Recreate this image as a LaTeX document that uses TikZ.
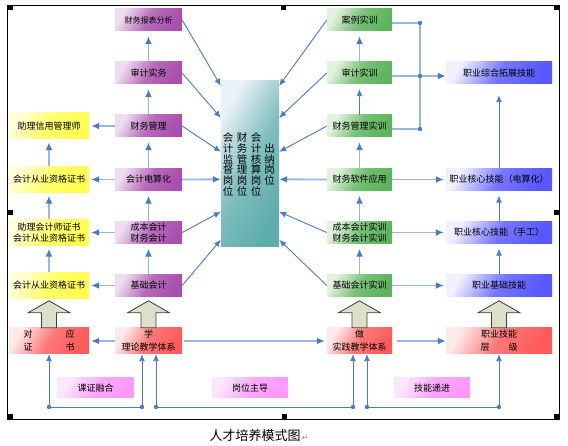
\documentclass[tikz,border=0pt]{standalone}
\usepackage{fontspec}
\newfontfamily\cjk{Noto Sans CJK SC}
\newfontfamily\dejavu{DejaVu Sans}
\usetikzlibrary{arrows.meta}
\definecolor{lnblue}{HTML}{4A7CC4}
\definecolor{lnlight}{HTML}{9AB6DC}
\definecolor{purlight}{HTML}{EEDDF0}
\definecolor{purmain}{HTML}{A94FAD}
\definecolor{yellight}{HTML}{FFFFD8}
\definecolor{yelmain}{HTML}{FFFF50}
\definecolor{grnlight}{HTML}{E2F2DE}
\definecolor{grnmain}{HTML}{5DB35D}
\definecolor{blulight}{HTML}{F0F0FF}
\definecolor{blumain}{HTML}{5858FF}
\definecolor{redlight}{HTML}{FCEAEA}
\definecolor{redmain}{HTML}{FF5A5A}
\definecolor{pnklight}{HTML}{FAE8FA}
\definecolor{pnkmain}{HTML}{FF99FF}
\definecolor{tealight}{HTML}{EAF2F7}
\definecolor{teamain}{HTML}{5EACAC}
\definecolor{arrowfill}{HTML}{DDE0C8}
\begin{document}
\begin{tikzpicture}[x=1pt,y=-1pt]
\tikzstyle{box}=[inner sep=0pt, align=center, minimum height=22pt, font=\cjk\fontsize{9}{11}\selectfont]
\tikzstyle{purplebox}=[box, minimum width=67pt, left color=purlight, right color=purmain, middle color=purmain!80!purlight, shading angle=60]
\tikzstyle{yellowbox}=[box, minimum width=80pt, minimum height=26pt, left color=yellight, right color=yelmain, middle color=yelmain!80!yellight, shading angle=60]
\tikzstyle{greenbox}=[box, minimum width=65pt, left color=grnlight, right color=grnmain, middle color=grnmain!80!grnlight, shading angle=60]
\tikzstyle{bluebox}=[box, minimum width=106pt, left color=blulight, right color=blumain, middle color=blumain!80!blulight, shading angle=60]
\tikzstyle{redbox}=[box, minimum height=26pt, font=\cjk\fontsize{9}{13}\selectfont, left color=redlight, right color=redmain, middle color=redmain!80!redlight, shading angle=60]
\tikzstyle{pinkbox}=[box, minimum width=76pt, minimum height=20pt, left color=pnklight, right color=pnkmain, middle color=pnkmain!80!pnklight, shading angle=60]
\tikzstyle{vtext}=[inner sep=0pt, align=center, font=\cjk\fontsize{10.5}{10.9}\selectfont]
\tikzstyle{conn}=[lnlight, line width=1.8pt, -{Latex[length=8pt,width=7pt,color=lnblue]}]
\tikzstyle{link}=[lnblue, line width=0.9pt, -{Latex[length=7pt,width=6pt]}]
\tikzstyle{wire}=[lnblue, line width=0.9pt]
\tikzstyle{bigup}=[draw=black!75, fill=arrowfill, line width=0.8pt]
\useasboundingbox (0,0) rectangle (568,446);

% frame
\draw[line width=0.8pt] (7.5,5) rectangle (559,419);
\foreach \x/\y in {7.5/5, 281/5, 554/5, 7.5/210, 554/210, 7.5/414, 282/414, 554/414}
  \fill (\x,\y) rectangle ++(5,5);

% certificates
\node[yellowbox] (cred) at (49,126) {助理信用管理师};
\node[yellowbox] (qualA) at (49,179.5) {会计从业资格证书};
\node[yellowbox] (asst) at (49,232.5) {助理会计师证书\\会计从业资格证书};
\node[yellowbox] (qualB) at (49,285.5) {会计从业资格证书};

% theory courses
\node[purplebox, font=\cjk\fontsize{8}{10}\selectfont] (rep) at (148.5,20) {财务报表分析};
\node[purplebox] (aud) at (148.5,73) {审计实务};
\node[purplebox] (fin) at (148.5,126) {财务管理};
\node[purplebox] (comp) at (148.5,179.5) {会计电算化};
\node[purplebox] (cost) at (148.5,232.5) {成本会计\\财务会计};
\node[purplebox] (basic) at (148.5,285.5) {基础会计};

% posts
\node[minimum width=58pt, minimum height=166pt, inner sep=0pt, left color=tealight, right color=teamain, middle color=teamain!75!tealight, shading angle=60] (post) at (250,164) {};
\node[vtext] (jd) at (228,164.5) {会\\计\\监\\督\\岗\\位};
\node[vtext] (gl) at (242,164.5) {财\\务\\管\\理\\岗\\位};
\node[vtext] (hs) at (256,164.5) {会\\计\\核\\算\\岗\\位};
\node[vtext] (cn) at (269.5,164.5) {出\\纳\\岗\\位};

% practice
\node[greenbox] (case) at (359.5,20) {案例实训};
\node[greenbox] (audt) at (359.5,73) {审计实训};
\node[greenbox] (finm) at (359.5,126) {财务管理实训};
\node[greenbox] (soft) at (359.5,179.5) {财务软件应用};
\node[greenbox] (costt) at (359.5,232.5) {成本会计实训\\财务会计实训};
\node[greenbox] (basict) at (359.5,285.5) {基础会计实训};

% skills
\node[bluebox] (ext) at (499,73) {职业综合拓展技能};
\node[bluebox] (corec) at (499,179.5) {职业核心技能（电算化）};
\node[bluebox] (coreh) at (499,232.5) {职业核心技能（手工）};
\node[bluebox] (base) at (499,285.5) {职业基础技能};

% systems
\node[redbox, minimum width=80pt] (cert) at (49,341) {对\hspace{33pt}应\\证\hspace{33pt}书};
\node[redbox, minimum width=67pt] (theo) at (148.5,341) {学\\理论教学体系};
\node[redbox, minimum width=65pt] (prac) at (359.5,341) {做\\实践教学体系};
\node[redbox, minimum width=106pt] (level) at (499,341) {职业技能\\层\hspace{19pt}级};
\foreach \n in {cert,theo,prac,level}
  \draw[bigup] (\n.north) ++(-7.5,0) -- ++(0,-15) -- ++(-13.5,0) -- ++(21,-12) -- ++(21,12) -- ++(-13.5,0) -- ++(0,15) -- cycle;

\node[pinkbox] (kz) at (95.5,388) {课证融合};
\node[pinkbox] (gw) at (250,388) {岗位主导};
\node[pinkbox] (jn) at (432,388) {技能递进};

\node[font=\cjk\fontsize{13}{15}\selectfont, inner sep=0pt] (cap) at (255,436) {人才培养模式图};
\node[anchor=base west, inner sep=1pt, text=black!45, font=\dejavu\fontsize{8}{8}\selectfont] (ret) at (cap.base east) {↵};

% columns
\draw[conn, shorten >=5pt] (basic) -- (cost);
\draw[conn, shorten >=5pt] (cost) -- (comp);
\draw[conn, shorten >=5pt] (comp) -- (fin);
\draw[conn, shorten >=5pt] (fin) -- (aud);
\draw[conn, shorten >=5pt] (aud) -- (rep);
\draw[conn, shorten >=3pt] (qualB) -- (asst);
\draw[conn, shorten >=3pt] (asst) -- (qualA);
\draw[conn, shorten >=3pt] (qualA) -- (cred);
\draw[conn, shorten >=2pt] (fin) -- (cred);
\draw[conn, shorten >=2pt] (comp) -- (qualA);
\draw[conn, shorten >=2pt] (cost) -- (asst);
\draw[conn, shorten >=2pt] (basic) -- (qualB);
\draw[conn, shorten >=5pt] (basict) -- (costt);
\draw[conn, shorten >=5pt] (costt) -- (soft);
\draw[conn, shorten >=5pt] (soft) -- (finm);
\draw[link, shorten >=5pt] (finm) -- (audt);
\draw[conn, shorten >=5pt] (audt) -- (case);
\draw[conn, shorten >=2pt] (soft) -- (corec);
\draw[conn, shorten >=2pt] (costt) -- (coreh);
\draw[conn, shorten >=2pt] (basict) -- (base);
\draw[link, shorten >=5pt] (base) -- (coreh);
\draw[link, shorten >=5pt] (coreh) -- (corec);
\draw[link, shorten >=11pt] (corec) -- (ext);

% into the posts
\draw[link] (rep.east) -- ([yshift=-5pt]post.north west);
\draw[link] (aud.east) -- ([yshift=-37pt]post.north west);
\draw[link] (fin.east) -- ([yshift=-71pt]post.north west);
\draw[conn] (comp.east) -- ([yshift=-98.5pt]post.north west);
\draw[link] (cost.east) -- ([yshift=-131pt]post.north west);
\draw[link] (basic.east) -- ([yshift=-159pt]post.north west);
\draw[link] (case.west) -- ([yshift=-5pt]post.north east);
\draw[link] (audt.west) -- ([yshift=-37pt]post.north east);
\draw[link] (finm.west) -- ([yshift=-71pt]post.north east);
\draw[conn] (soft.west) -- ([yshift=-98.5pt]post.north east);
\draw[link] (costt.west) -- ([yshift=-131pt]post.north east);
\draw[link] (basict.west) -- ([yshift=-159pt]post.north east);

% practice to extension
\coordinate (j1) at (420,23);
\coordinate (j2) at (420,76);
\coordinate (j3) at (420,129);
\draw[lnlight, line width=1.8pt] (case.east |- j1) -- (j1) -- (j3);
\draw[lnlight, line width=1.8pt] (audt.east |- j2) -- (j2);
\draw[lnlight, line width=1.8pt] (finm.east |- j3) -- (j3);
\draw[conn] (j2) -- (j2 -| ext.west);
\foreach \j in {j1,j2,j3} \fill[lnblue] (\j) circle (2.2pt);

% systems row
\draw[conn, shorten >=2pt] (theo) -- (cert);
\draw[conn, {Latex[length=8pt,width=7pt,color=lnblue]}-, shorten <=2pt, shorten >=2pt] (prac) -- (theo);
\draw[conn, shorten <=5pt] (prac) -- (level);

% bottom lines
\coordinate (d1) at (49,407);
\coordinate (d2) at (142,407);
\coordinate (d3) at (156,407);
\coordinate (d4) at (353,407);
\coordinate (d5) at (367,407);
\coordinate (d6) at (499,407);
\draw[wire] (d1) -- (d2);
\draw[wire] (d3) -- (d4);
\draw[wire] (d5) -- (d6);
\draw[link] (d1) -- (d1 |- cert.south);
\draw[link] (d2) -- (d2 |- theo.south);
\draw[link] (d3) -- (d3 |- theo.south);
\draw[link] (d4) -- (d4 |- prac.south);
\draw[link] (d5) -- (d5 |- prac.south);
\draw[link] (d6) -- (d6 |- level.south);
\foreach \d in {d1,d2,d3,d4,d5,d6} \fill[lnblue] (\d) circle (2.2pt);
\end{tikzpicture}
\end{document}
